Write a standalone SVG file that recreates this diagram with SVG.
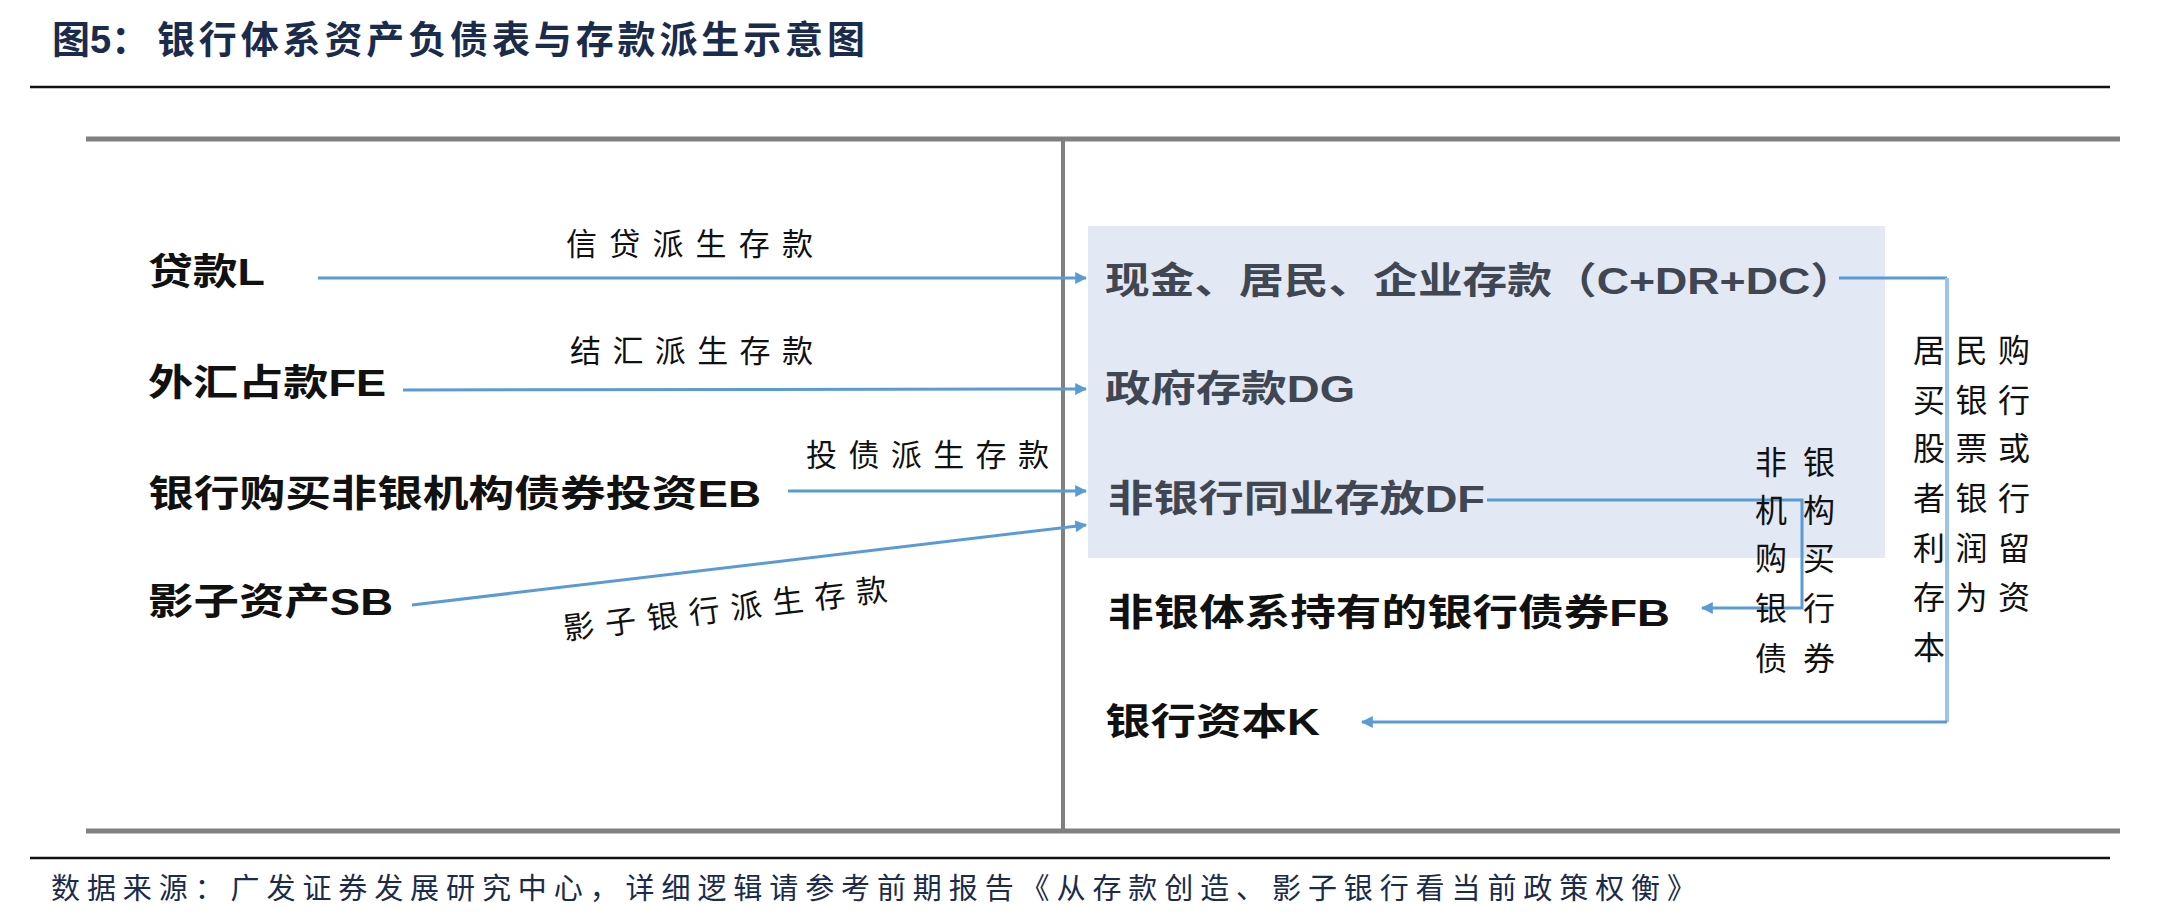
<svg xmlns="http://www.w3.org/2000/svg" width="2176" height="916" viewBox="0 0 2176 916">
<defs>
<style>
.title{font-family:"Liberation Sans","Noto Sans CJK SC",sans-serif;font-weight:700;font-size:38px;fill:#1B2B4B}
.lt{font-family:"Liberation Sans","Noto Sans CJK SC",sans-serif;font-weight:700;font-size:37px;fill:#111}
.rt{font-family:"Liberation Sans","Noto Sans CJK SC",sans-serif;font-weight:700;font-size:37px;fill:#404652}
.lab{font-family:"Noto Sans CJK SC",sans-serif;font-weight:400;font-size:31px;fill:#111}
.vl{font-family:"Noto Sans CJK SC",sans-serif;font-weight:400;font-size:32px;fill:#111}
.foot{font-family:"Noto Sans CJK SC",sans-serif;font-weight:400;font-size:29px;fill:#1B2B4B}
.conn{fill:none;stroke:#5B9BD5;stroke-width:3}
</style>
<marker id="ah" viewBox="0 0 10 10" refX="9" refY="5" markerWidth="4" markerHeight="4" orient="auto" markerUnits="strokeWidth">
<path d="M0,0 L10,5 L0,10 z" fill="#5B9BD5"/>
</marker>
</defs>
<rect width="2176" height="916" fill="#fff"/>

<g id="title">
<text class="title" x="52" y="53">图5：</text>
<text class="title" x="157" y="53" textLength="708" lengthAdjust="spacing">银行体系资产负债表与存款派生示意图</text>
</g>
<g id="frame">
<line x1="30" y1="87" x2="2110" y2="87" stroke="#111" stroke-width="2.5"/>
<line x1="86" y1="139" x2="2120" y2="139" stroke="#808080" stroke-width="5"/>
<line x1="86" y1="831" x2="2120" y2="831" stroke="#808080" stroke-width="5"/>
<line x1="1063" y1="139" x2="1063" y2="833" stroke="#808080" stroke-width="4"/>
<line x1="30" y1="858" x2="2110" y2="858" stroke="#111" stroke-width="2.5"/>
</g>
<rect id="liab-box" x="1088" y="226" width="797" height="332" fill="#E2E8F4"/>

<g id="connectors">
<line class="conn" x1="318" y1="278" x2="1086" y2="278" marker-end="url(#ah)"/>
<line class="conn" x1="403" y1="390" x2="1086" y2="389" stroke="#7EB2E2" marker-end="url(#ah)"/>
<line class="conn" x1="788" y1="491" x2="1086" y2="491" marker-end="url(#ah)"/>
<line class="conn" x1="412" y1="605" x2="1086" y2="525" stroke="#6FA8DC" marker-end="url(#ah)"/>
<polyline class="conn" points="1487,500 1802,500 1802,608 1702,608" stroke-width="2.5" marker-end="url(#ah)"/>
<polyline class="conn" points="1839,278 1947,278"/>
<line x1="1947" y1="278" x2="1947" y2="722" stroke="#9DC3E6" stroke-width="4"/>
<line class="conn" x1="1947" y1="722" x2="1362" y2="722" marker-end="url(#ah)"/>
</g>

<g id="n-loan"><text class="lt" x="148" y="285" textLength="117" lengthAdjust="spacingAndGlyphs">贷款L</text></g>
<g id="n-fe"><text class="lt" x="148" y="396" textLength="238" lengthAdjust="spacingAndGlyphs">外汇占款FE</text></g>
<g id="n-eb"><text class="lt" x="148" y="507" textLength="613" lengthAdjust="spacingAndGlyphs">银行购买非银机构债券投资EB</text></g>
<g id="n-sb"><text class="lt" x="148" y="615" textLength="245" lengthAdjust="spacingAndGlyphs">影子资产SB</text></g>

<g id="n-dep"><text class="rt" x="1105" y="294" textLength="750" lengthAdjust="spacingAndGlyphs">现金、居民、企业存款（C+DR+DC）</text></g>
<g id="n-dg"><text class="rt" x="1105" y="402" textLength="250" lengthAdjust="spacingAndGlyphs">政府存款DG</text></g>
<g id="n-df"><text class="rt" x="1108" y="512" textLength="377" lengthAdjust="spacingAndGlyphs">非银行同业存放DF</text></g>
<g id="n-fb"><text class="lt" x="1108" y="626" textLength="562" lengthAdjust="spacingAndGlyphs">非银体系持有的银行债券FB</text></g>
<g id="n-k"><text class="lt" x="1105" y="735" textLength="215" lengthAdjust="spacingAndGlyphs">银行资本K</text></g>

<g id="labels">
<text class="lab" x="566" y="255" textLength="247" lengthAdjust="spacing">信贷派生存款</text>
<text class="lab" x="570" y="362" textLength="243" lengthAdjust="spacing">结汇派生存款</text>
<text class="lab" x="806" y="466" textLength="243" lengthAdjust="spacing">投债派生存款</text>
<text class="lab" x="725" y="620" text-anchor="middle" transform="rotate(-7 725 608)" textLength="326" lengthAdjust="spacing">影子银行派生存款</text>
</g>
<g id="label-nonbank">
<text class="vl" x="1755" y="474" textLength="80" lengthAdjust="spacing">非银</text>
<text class="vl" x="1755" y="522" textLength="80" lengthAdjust="spacing">机构</text>
<text class="vl" x="1755" y="570" textLength="80" lengthAdjust="spacing">购买</text>
<text class="vl" x="1755" y="620" textLength="80" lengthAdjust="spacing">银行</text>
<text class="vl" x="1755" y="670" textLength="80" lengthAdjust="spacing">债券</text>
</g>
<g id="label-capital">
<text class="vl" x="1913" y="362" textLength="117" lengthAdjust="spacing">居民购</text>
<text class="vl" x="1913" y="412" textLength="117" lengthAdjust="spacing">买银行</text>
<text class="vl" x="1913" y="460" textLength="117" lengthAdjust="spacing">股票或</text>
<text class="vl" x="1913" y="510" textLength="117" lengthAdjust="spacing">者银行</text>
<text class="vl" x="1913" y="560" textLength="117" lengthAdjust="spacing">利润留</text>
<text class="vl" x="1913" y="609" textLength="117" lengthAdjust="spacing">存为资</text>
<text class="vl" x="1913" y="659">本</text>
</g>
<g id="footer">
<text class="foot" x="51" y="899" textLength="1645" lengthAdjust="spacing">数据来源：广发证券发展研究中心，详细逻辑请参考前期报告《从存款创造、影子银行看当前政策权衡》</text>
</g>
</svg>
